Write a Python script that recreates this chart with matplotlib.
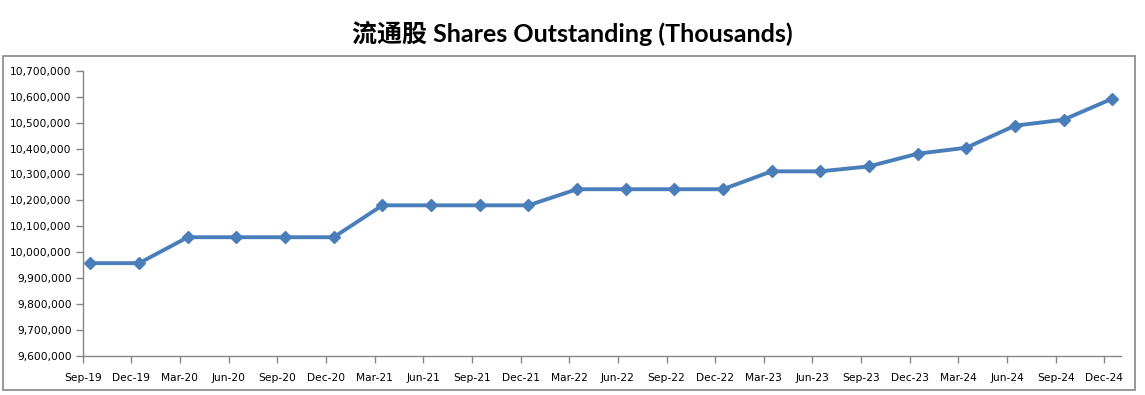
import matplotlib.pyplot as plt
from matplotlib.patches import Rectangle
from matplotlib.ticker import FuncFormatter

quarters = ['Sep-19', 'Dec-19', 'Mar-20', 'Jun-20', 'Sep-20', 'Dec-20',
            'Mar-21', 'Jun-21', 'Sep-21', 'Dec-21', 'Mar-22', 'Jun-22',
            'Sep-22', 'Dec-22', 'Mar-23', 'Jun-23', 'Sep-23', 'Dec-23',
            'Mar-24', 'Jun-24', 'Sep-24', 'Dec-24']
shares = [9958000, 9958000, 10058000, 10058000, 10058000, 10058000,
          10181000, 10181000, 10181000, 10181000, 10243000, 10243000,
          10243000, 10243000, 10312000, 10312000, 10331000, 10380000,
          10403000, 10488000, 10511000, 10592000]
y_ticks = list(range(9600000, 10700001, 100000))

fig = plt.figure(figsize=(11.45, 3.95), dpi=100)
ax = fig.add_axes([0.0722, 0.0987, 0.9068, 0.7223])

blue = '#4A7EBB'
grey = '#868686'

# points sit a bit to the right of each tick, like the original chart
xs = [i + 0.16 for i in range(len(quarters))]
ax.plot(xs, shares, color=blue, linewidth=2.8, marker='D', markersize=6.5,
        markerfacecolor=blue, markeredgecolor=blue, solid_joinstyle='round')

ax.set_xlim(0, 21.34)
ax.set_ylim(9600000, 10700000)
ax.set_xticks(range(len(quarters)))
ax.set_xticklabels(quarters)
ax.set_yticks(y_ticks)
ax.yaxis.set_major_formatter(FuncFormatter(lambda v, p: f'{int(v):,}'))

for side in ['top', 'right']:
    ax.spines[side].set_visible(False)
for side in ['left', 'bottom']:
    ax.spines[side].set_color(grey)
    ax.spines[side].set_linewidth(1.0)
ax.tick_params(axis='both', colors=grey, labelcolor='black', labelsize=7.7,
               length=5, width=1.0, direction='out')
ax.tick_params(axis='x', pad=7)
ax.tick_params(axis='y', pad=3)

# chart area border
fig.patches.append(Rectangle((0.0022, 0.0127), 0.9895, 0.846, transform=fig.transFigure,
                             fill=False, edgecolor=grey, linewidth=1.2))

fig.text(0.5, 0.915, '流通股 Shares Outstanding (Thousands)', ha='center', va='center',
         fontsize=18, fontweight='bold', family=['Lato', 'Noto Sans CJK SC', 'DejaVu Sans'])

fig.savefig('out.png', dpi=100)
